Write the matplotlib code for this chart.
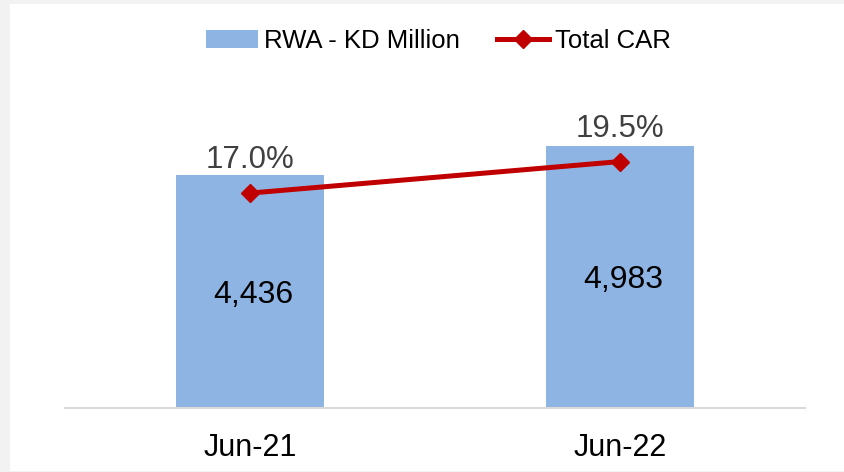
import matplotlib.pyplot as plt
from matplotlib.patches import Rectangle

plt.rcParams['font.family'] = ['Liberation Sans', 'DejaVu Sans']

# data
periods = ['Jun-21', 'Jun-22']
rwa = [4436, 4983]          # KD Million
car = [17.0, 19.5]          # Total CAR %

W, H = 844, 472
fig = plt.figure(figsize=(W / 100, H / 100), dpi=100, facecolor='#f2f2f2')

# white chart area with faint grey frame around it
fig.add_artist(Rectangle((10 / W, 1.5 / H), 1 - 10 / W, 1 - 5.5 / H,
                         transform=fig.transFigure, facecolor='white',
                         edgecolor='none', zorder=-5))

ax = fig.add_axes([65 / W, 1 - 407.5 / H, (804.7 - 65) / W, 367 / H])
ax.set_facecolor('none')

x = range(len(periods))
bars = ax.bar(x, rwa, width=0.4, color='#8EB4E3', label='RWA - KD Million', zorder=2)
ax.set_xlim(-0.5, 1.5)
ax.set_ylim(0, 7000)

for i, v in enumerate(rwa):
    ax.text(i + 0.01, v / 2, f'{v:,}', ha='center', va='center_baseline',
            fontsize=23, color='black', zorder=3)

for s in ['top', 'right', 'left']:
    ax.spines[s].set_visible(False)
ax.spines['bottom'].set_color('#d9d9d9')
ax.spines['bottom'].set_linewidth(1.5)
ax.set_yticks([])
ax.set_xticks(list(x))
ax.set_xticklabels(periods, fontsize=22)
ax.tick_params(axis='x', length=0, pad=18)

ax2 = ax.twinx()
ax2.set_ylim(0, 29.1)
ax2.set_yticks([])
for s in ax2.spines.values():
    s.set_visible(False)
line, = ax2.plot(list(x), car, color='#C00000', lw=3.6, marker='D',
                 markersize=9.5, label='Total CAR', zorder=4)
for i, v in enumerate(car):
    ax2.annotate(f'{v:.1f}%', (i, v), xytext=(0, 26), textcoords='offset points',
                 ha='center', va='center_baseline', fontsize=22.5, color='#404040')

fig.legend(handles=[bars, line], loc='center', ncol=2,
           bbox_to_anchor=(438.5 / W, 1 - 41 / H), frameon=False,
           fontsize=18.5, handlelength=2.0, handletextpad=0.25,
           columnspacing=1.45)

fig.savefig('out.png', dpi=100, facecolor=fig.get_facecolor())
